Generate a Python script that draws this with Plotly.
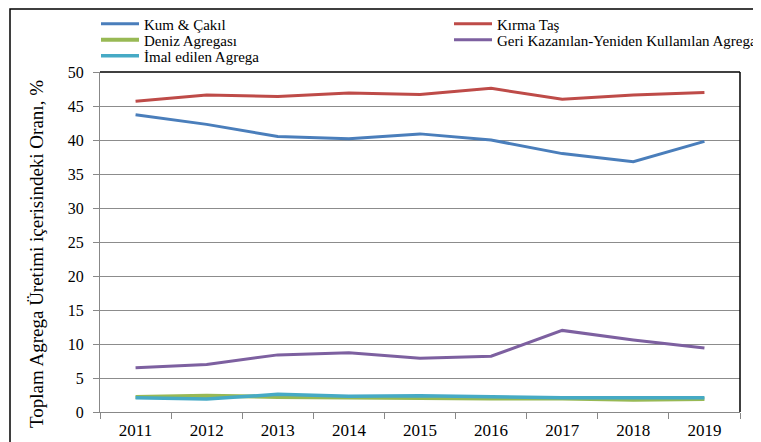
import plotly.graph_objects as go

years = ["2011", "2012", "2013", "2014", "2015", "2016", "2017", "2018", "2019"]
kum_cakil = [43.7, 42.3, 40.5, 40.2, 40.9, 40.0, 38.0, 36.8, 39.8]
kirma_tas = [45.7, 46.6, 46.4, 46.9, 46.7, 47.6, 46.0, 46.6, 47.0]
deniz = [2.2, 2.4, 2.2, 2.1, 2.0, 2.0, 2.0, 1.8, 1.9]
geri = [6.5, 7.0, 8.4, 8.7, 7.9, 8.2, 12.0, 10.6, 9.4]
imal = [2.1, 1.9, 2.6, 2.3, 2.4, 2.2, 2.1, 2.1, 2.1]

W, H = 753, 434  # page body adds an 8px offset
font = "Times New Roman"

series = [
    ("Kum & Çakıl", kum_cakil, "#4A7EBB", 3, "legend", 88, 16),
    ("Kırma Taş", kirma_tas, "#BE4B48", 3, "legend2", 441, 16),
    ("Deniz Agregası", deniz, "#98B954", 4, "legend3", 88, 32),
    ("Geri Kazanılan-Yeniden Kullanılan Agrega", geri, "#7D60A0", 3, "legend4", 441, 32),
    ("İmal edilen Agrega", imal, "#46AAC5", 3.5, "legend5", 88, 48),
]

fig = go.Figure()
legends = {}
for name, vals, color, w, leg, lx, ly in series:
    fig.add_trace(go.Scatter(x=years, y=vals, name=name, mode="lines",
                             line=dict(color=color, width=w), legend=leg))
    legends[leg] = dict(orientation="v", xref="container", yref="container",
                        x=lx / W, y=1 - ly / H, xanchor="left", yanchor="middle",
                        font=dict(size=15, family=font), itemwidth=38,
                        bgcolor="rgba(0,0,0,0)", borderwidth=0)

fig.update_layout(
    width=W, height=H,
    margin=dict(l=92, r=21, t=64, b=30, autoexpand=False),
    paper_bgcolor="white", plot_bgcolor="white",
    font=dict(family=font, size=17, color="black"),
    showlegend=True,
    **legends,
)
fig.update_xaxes(type="category", range=[-0.5, 8.5], tickson="boundaries", ticks="outside",
                 ticklen=6, tickcolor="#888888", showline=True, linecolor="#888888",
                 linewidth=1, showgrid=False, tickfont=dict(size=17, family=font),
                 ticklabelstandoff=3)
fig.update_yaxes(range=[0, 50], dtick=5, ticks="outside", ticklen=6, tickcolor="#888888",
                 showline=True, linecolor="#888888", linewidth=1,
                 showgrid=True, gridcolor="#8c8c8c", gridwidth=1,
                 tickfont=dict(size=16, family=font), ticklabelstandoff=6)

fig.add_annotation(text="Toplam Agrega Üretimi içerisindeki Oranı, %", textangle=-90,
                   xref="paper", yref="paper", x=(28 - 92) / 640, y=(404 - 246) / 340,
                   xanchor="center", yanchor="middle",
                   showarrow=False, font=dict(size=19, family=font))

# plot box top/right black border
fig.add_shape(type="line", xref="paper", yref="paper", x0=0, x1=1, y0=1, y1=1,
              line=dict(color="black", width=1.5))
fig.add_shape(type="line", xref="paper", yref="paper", x0=1, x1=1, y0=0, y1=1,
              line=dict(color="black", width=1.5))
# outer chart frame
fig.add_shape(type="rect", xref="paper", yref="paper", x0=(2 - 92) / 640, x1=1.06,
              y0=-0.15, y1=1 + (64 - 1) / 340, line=dict(color="black", width=1.5),
              layer="below")

fig.write_html("out.html")
